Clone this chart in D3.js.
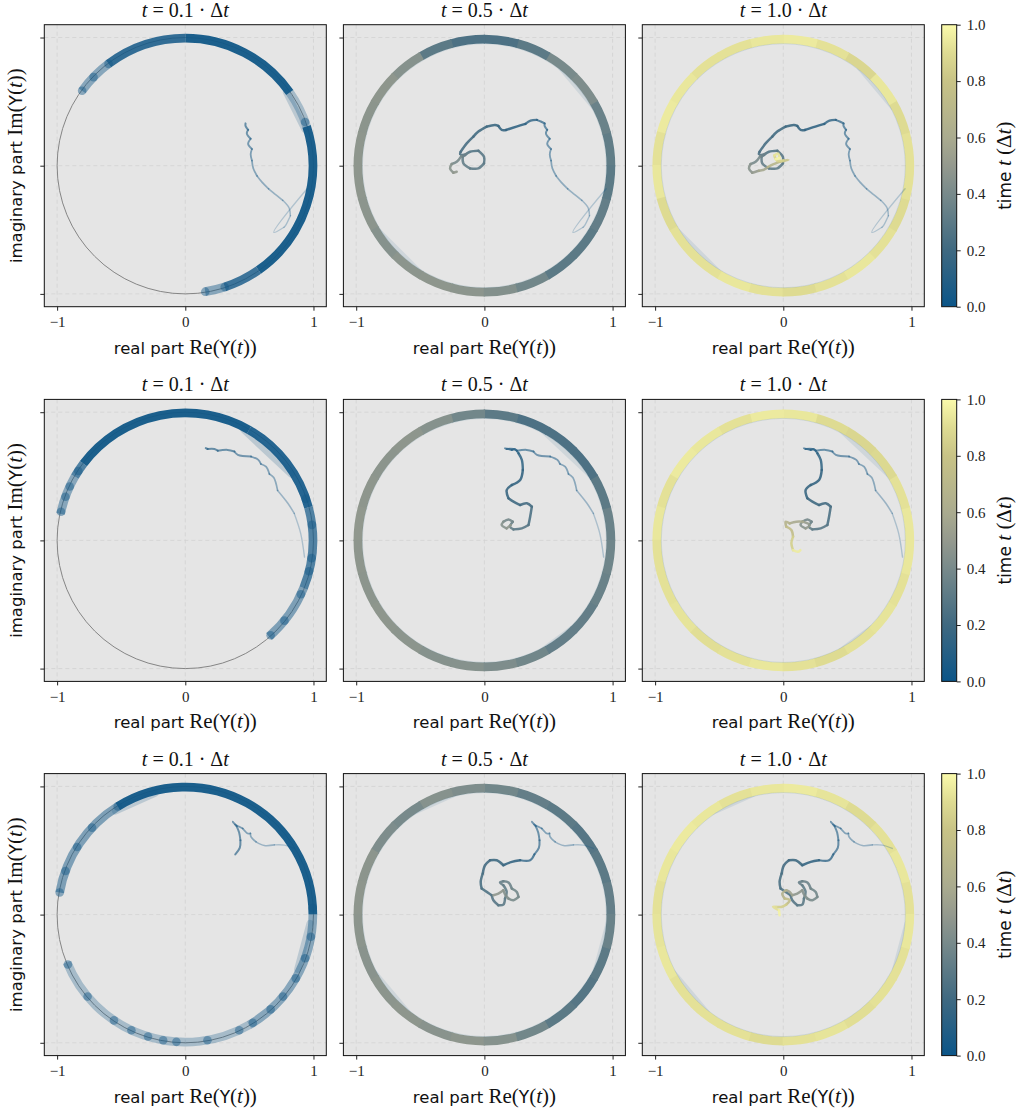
<!DOCTYPE html>
<html><head><meta charset="utf-8">
<script src="https://cdn.jsdelivr.net/npm/d3@7"></script>
<style>
body{margin:0;background:#fff;}
svg{display:block;}
</style></head>
<body>
<svg id="chart" width="1024" height="1113"></svg>
<script>
// ---------------- DATA ----------------
const times = [0.1, 0.5, 1.0];
const titles = ["0.1", "0.5", "1.0"];
const axisTicks = [-1, 0, 1];
const cbarTicks = [0.0, 0.2, 0.4, 0.6, 0.8, 1.0];

// colormap stops (time value -> colour)
const cmapStops = [0.0, 0.2, 0.4, 0.5, 0.6, 0.8, 0.9, 1.0];
const cmapColors = ["#0b5588", "#3f6981", "#788a8b", "#94998e", "#aaab8f", "#c8c386", "#dedb92", "#fafaab"];

// tracked trajectory per row: [re, im, t]
const path1 = [
 [0.95,-0.18,0],[0.69,-0.52,0.005],[0.77,-0.48,0.01],[0.78,-0.47,0.015],[0.82,-0.39,0.02],
 [0.81,-0.33,0.025],[0.76,-0.27,0.03],[0.71,-0.23,0.035],[0.65,-0.18,0.04],[0.6,-0.13,0.045],
 [0.56,-0.08,0.05],[0.53,-0.02,0.055],[0.52,0.04,0.06],[0.51,0.09,0.065],[0.52,0.13,0.07],
 [0.49,0.17,0.075],[0.51,0.21,0.08],[0.48,0.25,0.085],[0.49,0.28,0.09],[0.47,0.31,0.095],[0.47,0.33,0.1],
 [0.44,0.345,0.11],[0.41,0.357,0.12],[0.36,0.352,0.13],[0.32,0.326,0.14],[0.25,0.305,0.15],
 [0.17,0.279,0.16],[0.135,0.279,0.17],[0.109,0.31,0.18],[0.083,0.318,0.19],[0.018,0.305,0.2],
 [-0.047,0.266,0.21],[-0.086,0.227,0.22],[-0.138,0.174,0.23],[-0.185,0.109,0.24],[-0.19,0.09,0.25],
 [-0.151,0.083,0.26],[-0.112,0.109,0.27],[-0.047,0.117,0.28],[-0.003,0.07,0.29],[-0.003,0.018,0.3],
 [-0.047,-0.021,0.31],[-0.112,-0.021,0.32],[-0.164,0.018,0.33],[-0.169,0.07,0.34],[-0.138,0.096,0.35],
 [-0.18,0.075,0.37],[-0.216,0.03,0.4],[-0.255,0.013,0.43],[-0.268,-0.021,0.46],[-0.242,-0.055,0.48],
 [-0.216,-0.047,0.5],
 [-0.19,-0.04,0.53],[-0.15,-0.03,0.58],[-0.12,-0.01,0.62],[-0.08,0.01,0.68],[-0.03,0.03,0.74],
 [0.04,0.045,0.8],[0.0,0.04,0.84],[-0.05,0.04,0.87],[-0.07,0.08,0.9],[-0.04,0.095,0.93],
 [-0.03,0.06,0.96],[-0.06,0.05,1.0]
];
const path2 = [
 [0.93,-0.13,0],[0.9,0.055,0.01],[0.85,0.21,0.02],[0.8,0.29,0.03],[0.72,0.39,0.04],[0.69,0.49,0.05],
 [0.656,0.518,0.055],[0.63,0.575,0.06],[0.59,0.596,0.065],[0.57,0.628,0.07],[0.513,0.654,0.075],
 [0.41,0.667,0.08],[0.383,0.693,0.085],[0.33,0.706,0.09],[0.253,0.7,0.093],[0.227,0.713,0.096],
 [0.174,0.713,0.098],[0.16,0.72,0.1],
 [0.214,0.706,0.11],[0.24,0.711,0.12],[0.266,0.68,0.13],[0.292,0.628,0.14],[0.3,0.55,0.15],
 [0.279,0.471,0.16],[0.214,0.432,0.17],[0.174,0.393,0.18],[0.188,0.328,0.19],[0.227,0.302,0.2],
 [0.279,0.276,0.21],[0.331,0.289,0.22],[0.37,0.263,0.23],[0.357,0.185,0.25],[0.344,0.12,0.27],
 [0.292,0.094,0.29],[0.227,0.086,0.31],[0.2,0.107,0.33],[0.221,0.146,0.36],[0.188,0.164,0.39],
 [0.148,0.146,0.42],[0.135,0.12,0.45],[0.174,0.094,0.48],[0.206,0.12,0.5],
 [0.154,0.146,0.55],[0.102,0.146,0.6],[0.05,0.133,0.64],[0.018,0.146,0.67],[0.023,0.107,0.7],
 [0.063,0.081,0.75],[0.076,0.029,0.8],[0.063,-0.023,0.85],[0.076,-0.076,0.9],[0.115,-0.089,0.95],
 [0.133,-0.076,1.0]
];
const path3 = [
 [0.85,0.516,0],[0.773,0.542,0.01],[0.695,0.544,0.02],[0.617,0.539,0.03],[0.552,0.568,0.04],
 [0.513,0.607,0.05],[0.508,0.633,0.055],[0.487,0.633,0.06],[0.448,0.672,0.065],[0.422,0.685,0.07],
 [0.388,0.703,0.075],[0.37,0.724,0.08],[0.4,0.69,0.085],[0.42,0.64,0.09],[0.43,0.58,0.093],
 [0.425,0.52,0.096],[0.39,0.47,0.1],
 [0.357,0.424,0.12],[0.279,0.424,0.14],[0.214,0.411,0.16],[0.148,0.385,0.18],[0.096,0.424,0.2],
 [0.044,0.424,0.21],[0.005,0.385,0.22],[-0.013,0.32,0.23],[-0.029,0.255,0.24],[-0.021,0.203,0.25],
 [0.018,0.177,0.26],[0.057,0.151,0.27],[0.07,0.112,0.28],[0.109,0.073,0.29],[0.148,0.078,0.3],
 [0.161,0.125,0.31],[0.174,0.177,0.32],[0.148,0.229,0.33],[0.122,0.25,0.34],[0.148,0.26,0.35],
 [0.188,0.25,0.36],[0.214,0.203,0.37],[0.253,0.177,0.38],[0.266,0.138,0.39],[0.227,0.112,0.4],
 [0.188,0.125,0.42],[0.16,0.16,0.44],[0.148,0.19,0.46],[0.109,0.164,0.48],[0.07,0.151,0.5],
 [0.05,0.177,0.55],[0.023,0.19,0.6],[-0.008,0.164,0.65],[0.01,0.125,0.7],[0.05,0.112,0.75],
 [0.023,0.078,0.8],[-0.016,0.06,0.85],[-0.055,0.06,0.88],[-0.08,0.06,0.9],[-0.034,0.034,0.95],
 [-0.029,-0.005,1.0]
];
const paths = [path1, path2, path3];

// early-time ring coverage (t = 0.1 panels): [startDeg, endDeg, t, opacity]
const early1 = [[127,144,0.04,0.45],[90,127,0.03,0.85],[35,90,0.02,0.95],[18,35,0.04,0.3],
                [-55,18,0.02,0.95],[-72,-55,0.03,0.8],[-81,-72,0.04,0.45]];
const early2 = [[150,168,0.04,0.45],[143,150,0.03,0.7],[60,143,0.02,0.95],[15,60,0.02,0.9],
                [-22,15,0.03,0.7],[-49,-22,0.04,0.5]];
const early3 = [[122,170,0.04,0.5],[0,122,0.02,0.95],[-60,0,0.03,0.45],[-158,-60,0.04,0.3]];
const earlySegs = [early1, early2, early3];
// individual particle blobs on the ring at t = 0.1 (degrees)
const blobs1 = [144,136,127,20,-72,-81];
const blobs2 = [167,160,155,147,19,7,-8,-14,-25,-39,-48];
const blobs3 = [170,160,148,137,122,3,-10,-20,-30,-40,-48,-58,-65,-80,-94,-100,-107,-115,-124,-140,-157];
const blobs = [blobs1, blobs2, blobs3];
// faint shortcut trails across the ring: [startDeg, endDeg] for t = 0.1 and later panels
const earlyChords = [[[36,17]], [[62,32]], [[124,104],[-4,-26]]];
const lateChords = [[[52,28],[238,212]], [[62,32],[-45,-62]], [[124,104],[-4,-26],[232,208]]];

// ring time value per 15-degree bin (starting at 0 deg, counter-clockwise)
const ringMid1 = [0.32,0.35,0.42,0.4,0.3,0.25,0.25,0.3,0.45,0.48,0.47,0.48,0.48,0.47,0.45,0.47,0.48,0.47,0.44,0.38,0.3,0.3,0.33,0.3];
const ringMid2 = [0.35,0.3,0.25,0.25,0.25,0.3,0.38,0.45,0.48,0.47,0.48,0.49,0.48,0.47,0.48,0.47,0.45,0.45,0.42,0.38,0.33,0.33,0.35,0.37];
const ringMid3 = [0.33,0.3,0.28,0.3,0.33,0.38,0.42,0.45,0.4,0.42,0.47,0.48,0.47,0.46,0.47,0.48,0.46,0.48,0.45,0.38,0.3,0.28,0.3,0.35];
const ringEnd1 = [0.92,0.9,0.94,0.88,0.92,0.95,0.94,0.92,0.92,0.94,0.95,0.92,0.94,0.9,0.92,0.92,0.94,0.92,0.9,0.92,0.94,0.92,0.9,0.92];
const ringEnd2 = [0.94,0.92,0.89,0.88,0.9,0.94,0.95,0.92,0.94,0.95,0.92,0.94,0.92,0.92,0.93,0.91,0.92,0.94,0.92,0.9,0.92,0.93,0.92,0.94];
const ringEnd3 = [0.92,0.94,0.92,0.9,0.93,0.95,0.94,0.92,0.94,0.95,0.94,0.92,0.93,0.94,0.92,0.92,0.92,0.9,0.92,0.93,0.91,0.92,0.92,0.94];
const ringMid = [ringMid1, ringMid2, ringMid3];
const ringEnd = [ringEnd1, ringEnd2, ringEnd3];

// ---------------- LAYOUT ----------------
const SIZE = 282;
const colLeft = [44.3, 343.4, 642.3];
const rowTop = [24.7, 399.4, 773.6];
const cbarX = 941.7, cbarW = 15;
const SERIF = "'Liberation Serif','DejaVu Serif',serif";
const SANS = "'DejaVu Sans','Liberation Sans',sans-serif";

const svg = d3.select("#chart");
const cmap = d3.scaleLinear().domain(cmapStops).range(cmapColors).interpolate(d3.interpolateRgb).clamp(true);
const xs = d3.scaleLinear().domain([-1.1, 1.1]).range([0, SIZE]);
const ys = d3.scaleLinear().domain([-1.1, 1.1]).range([SIZE, 0]);
const unitR = r => xs(r) - xs(0);
const rad = deg => deg * Math.PI / 180;
const alphaOf = t => 0.22 + 0.68 * Math.min(1, t / 0.15);
const widthOf = t => 1.3 + 1.2 * Math.min(1, t / 0.15);

function arcD(a0, a1, r) {
  const p = d3.path();
  p.moveTo(r * Math.cos(rad(a0)), -r * Math.sin(rad(a0)));
  p.arc(0, 0, r, -rad(a0), -rad(a1), true);
  return p.toString();
}

const defs = svg.append("defs");

function labelSpans(sel, pre, mid) {
  sel.append("tspan").attr("font-family", SANS).attr("font-size", 16.5).text(pre);
  sel.append("tspan").attr("font-family", SERIF).attr("font-size", 21).text(mid + "(");
  sel.append("tspan").attr("font-family", SANS).attr("font-size", 17).text("Y");
  sel.append("tspan").attr("font-family", SERIF).attr("font-size", 21).text("(");
  sel.append("tspan").attr("font-family", SERIF).attr("font-size", 21).attr("font-style", "italic").text("t");
  sel.append("tspan").attr("font-family", SERIF).attr("font-size", 21).text("))");
}

const lineGen = d3.line().x(p => xs(p[0])).y(p => ys(p[1])).curve(d3.curveCatmullRom.alpha(0.5));

rowTop.forEach((top, ri) => {
  colLeft.forEach((left, ci) => {
    const T = times[ci];
    const g = svg.append("g").attr("transform", `translate(${left},${top})`);
    const cid = `clip${ri}${ci}`;
    defs.append("clipPath").attr("id", cid).append("rect").attr("width", SIZE).attr("height", SIZE);
    g.append("rect").attr("width", SIZE).attr("height", SIZE).attr("fill", "#e5e5e5");
    const plot = g.append("g").attr("clip-path", `url(#${cid})`);
    // grid
    axisTicks.forEach(v => {
      plot.append("line").attr("x1", xs(v)).attr("x2", xs(v)).attr("y1", 0).attr("y2", SIZE)
        .attr("stroke", "#d2d2d2").attr("stroke-width", 0.8).attr("stroke-dasharray", "4,3");
      plot.append("line").attr("y1", ys(v)).attr("y2", ys(v)).attr("x1", 0).attr("x2", SIZE)
        .attr("stroke", "#d2d2d2").attr("stroke-width", 0.8).attr("stroke-dasharray", "4,3");
    });
    const cg = plot.append("g").attr("transform", `translate(${xs(0)},${ys(0)})`);
    // unit circle
    cg.append("circle").attr("r", unitR(1)).attr("fill", "none").attr("stroke", "#858585").attr("stroke-width", 1);
    // faint shortcut trails
    (ci === 0 ? earlyChords : lateChords)[ri].forEach(([a, b]) => {
      const r = unitR(0.975);
      cg.append("line")
        .attr("x1", r * Math.cos(rad(a))).attr("y1", -r * Math.sin(rad(a)))
        .attr("x2", r * Math.cos(rad(b))).attr("y2", -r * Math.sin(rad(b)))
        .attr("stroke", cmap(0.05)).attr("stroke-width", 7).attr("stroke-linecap", "round")
        .attr("opacity", ci === 0 ? 0.2 : 0.1);
    });
    const ringW = unitR(0.068);
    if (ci === 0) {
      const rr = unitR(0.995);
      earlySegs[ri].forEach(([a0, a1, t, op]) => {
        cg.append("path").attr("d", arcD(a0, a1, rr)).attr("fill", "none")
          .attr("stroke", cmap(t)).attr("stroke-width", ringW).attr("stroke-linecap", "butt")
          .attr("opacity", op);
      });
      blobs[ri].forEach(a => {
        cg.append("circle").attr("cx", rr * Math.cos(rad(a))).attr("cy", -rr * Math.sin(rad(a)))
          .attr("r", 4.3).attr("fill", cmap(0.03)).attr("opacity", 0.45);
      });
    } else {
      const rr = unitR(0.987);
      const vals = ci === 1 ? ringMid[ri] : ringEnd[ri];
      vals.forEach((t, k) => {
        const a0 = k * 15 - 0.3, a1 = (k + 1) * 15 + 0.3;
        cg.append("path").attr("d", arcD(a0, a1, rr)).attr("fill", "none")
          .attr("stroke", cmap(t)).attr("stroke-width", ringW).attr("stroke-linecap", "butt");
      });
      // faint blue inner trace
      cg.append("circle").attr("r", unitR(0.952)).attr("fill", "none")
        .attr("stroke", cmap(0.1)).attr("stroke-width", 1).attr("opacity", 0.12);
    }
    // trajectory (drawn in short curved chunks coloured by time)
    const pts = paths[ri].filter(p => p[2] <= T + 1e-9);
    for (let k = 0; k + 1 < pts.length; k += 2) {
      const inner = pts.slice(k, Math.min(pts.length, k + 3));
      const tm = d3.mean(inner, p => p[2]);
      plot.append("path").attr("d", lineGen(inner))
        .attr("fill", "none").attr("stroke", cmap(tm)).attr("stroke-width", widthOf(tm))
        .attr("stroke-linecap", "round").attr("stroke-linejoin", "round").attr("opacity", alphaOf(tm));
    }
    // frame
    g.append("rect").attr("width", SIZE).attr("height", SIZE).attr("fill", "none")
      .attr("stroke", "#111").attr("stroke-width", 1);
    // axes
    const xa = g.append("g").attr("transform", `translate(0,${SIZE})`)
      .call(d3.axisBottom(xs).tickValues(axisTicks).tickSize(4).tickPadding(6).tickFormat(d3.format("d")));
    const ya = g.append("g")
      .call(d3.axisLeft(ys).tickValues(axisTicks).tickSize(4).tickFormat(""));
    [xa, ya].forEach(a => {
      a.select(".domain").remove();
      a.selectAll("line").attr("stroke", "#222");
      a.selectAll("text").attr("font-family", SERIF).attr("font-size", 15).attr("fill", "#222");
    });
    // title
    const tt = g.append("text").attr("x", SIZE / 2).attr("y", -8).attr("text-anchor", "middle")
      .attr("font-family", SERIF).attr("font-size", 20).attr("fill", "#111");
    tt.append("tspan").attr("font-style", "italic").text("t");
    tt.append("tspan").text(" = " + titles[ci] + " · Δ");
    tt.append("tspan").attr("font-style", "italic").text("t");
    // x label
    const xl = g.append("text").attr("x", SIZE / 2).attr("y", SIZE + 47).attr("text-anchor", "middle").attr("fill", "#111");
    labelSpans(xl, "real part ", "Re");
    // y label
    if (ci === 0) {
      const yl = g.append("text").attr("transform", `translate(${22 - left},${SIZE / 2}) rotate(-90)`)
        .attr("text-anchor", "middle").attr("fill", "#111");
      labelSpans(yl, "imaginary part ", "Im");
    }
  });

  // colorbar
  const gid = `cgrad${ri}`;
  const grad = defs.append("linearGradient").attr("id", gid).attr("x1", 0).attr("x2", 0).attr("y1", 1).attr("y2", 0);
  cmapStops.forEach((s, k) => grad.append("stop").attr("offset", s).attr("stop-color", cmapColors[k]));
  const cs = d3.scaleLinear().domain([0, 1]).range([SIZE, 0]);
  const cb = svg.append("g").attr("transform", `translate(${cbarX},${top})`);
  cb.append("rect").attr("width", cbarW).attr("height", SIZE).attr("fill", `url(#${gid})`)
    .attr("stroke", "#111").attr("stroke-width", 1);
  const ca = cb.append("g").attr("transform", `translate(${cbarW},0)`)
    .call(d3.axisRight(cs).tickValues(cbarTicks).tickSize(4).tickPadding(6).tickFormat(d3.format(".1f")));
  ca.select(".domain").remove();
  ca.selectAll("line").attr("stroke", "#222");
  ca.selectAll("text").attr("font-family", SERIF).attr("font-size", 15).attr("fill", "#222");
  const cl = cb.append("text").attr("transform", `translate(${1011 - cbarX},${SIZE / 2}) rotate(-90)`)
    .attr("text-anchor", "middle").attr("fill", "#111");
  cl.append("tspan").attr("font-family", SANS).attr("font-size", 17).text("time ");
  cl.append("tspan").attr("font-family", SERIF).attr("font-size", 21).attr("font-style", "italic").text("t");
  cl.append("tspan").attr("font-family", SERIF).attr("font-size", 21).text(" (Δ");
  cl.append("tspan").attr("font-family", SERIF).attr("font-size", 21).attr("font-style", "italic").text("t");
  cl.append("tspan").attr("font-family", SERIF).attr("font-size", 21).text(")");
});
</script>
</body></html>
